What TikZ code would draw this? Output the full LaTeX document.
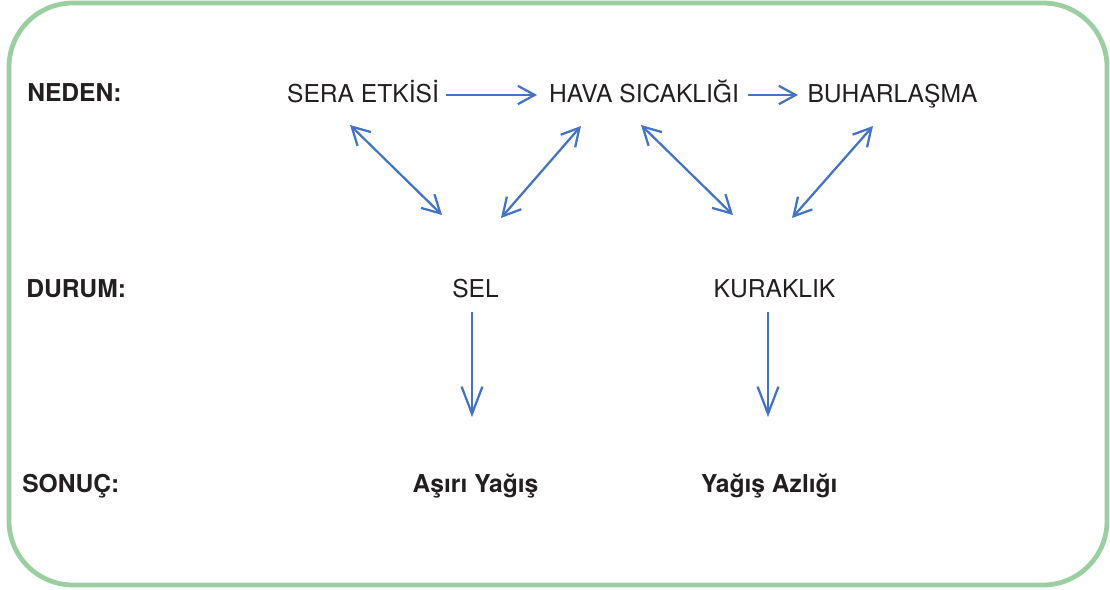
\documentclass[tikz,border=0pt]{standalone}
\usepackage{fontspec}
\setmainfont{TeX Gyre Heros}
\usetikzlibrary{arrows.meta,calc}
\definecolor{Ink}{HTML}{231F20}
\definecolor{LinkBlue}{HTML}{4472C4}
\definecolor{FrameGreen}{HTML}{9BCFA1}

\begin{document}
\begin{tikzpicture}[x=0.025cm,y=-0.025cm,
      font=\fontsize{17.5}{21}\selectfont,text=Ink,
      frame/.style={draw=FrameGreen,line width=3.4pt,rounded corners=1.6cm},
      term/.style={anchor=base,inner sep=0pt},
      rowlabel/.style={anchor=base west,inner sep=0pt,font=\fontsize{17.5}{21}\selectfont\bfseries},
      flow/.style={-{Straight Barb[length=0.42cm,width=0.46cm]},draw=LinkBlue,line width=1.6pt},
      twoway/.style={{Straight Barb[length=0.44cm,width=0.48cm]}-{Straight Barb[length=0.44cm,width=0.48cm]},
                     draw=LinkBlue,line width=1.6pt},
      lead/.style={-{Straight Barb[length=0.68cm,width=0.52cm]},draw=LinkBlue,line width=1.6pt}]
    \useasboundingbox (0,0) rectangle (1110,590);
    \draw[frame] (9,3) rectangle (1107,585);

    % row labels
    \node[rowlabel] (neden) at (27,102) {NEDEN:};
    \node[rowlabel] (durum) at (26,297) {DURUM:};
    \node[rowlabel] (sonuc) at (22,492) {SONUÇ:};

    % causes
    \node[term] (sera)  at (363,103) {SERA ETKİSİ};
    \node[term] (hava)  at (644,103) {HAVA SICAKLIĞI};
    \node[term] (buhar) at (892.5,103) {BUHARLAŞMA};
    % situations
    \node[term] (sel)   at (475.5,297) {SEL};
    \node[term] (kurak) at (774.5,297) {KURAKLIK};
    % results
    \node[term,font=\fontsize{17.5}{21}\selectfont\bfseries] (asiri) at (475.5,492) {Aşırı Yağış};
    \node[term,font=\fontsize{17.5}{21}\selectfont\bfseries] (azlik) at (769.3,492) {Yağış Azlığı};

    \draw[flow] ($(sera.base)+(83,-8)$) -- ($(hava.base)+(-107,-8)$);
    \draw[flow] ($(hava.base)+(104,-8)$) -- ($(buhar.base)+(-94.5,-8)$);

    \draw[twoway] ($(sera.base)+(-13,22)$) -- ($(sel.base)+(-33.5,-82)$);
    \draw[twoway] ($(hava.base)+(-63,23)$) -- ($(sel.base)+(25.5,-79)$);
    \draw[twoway] ($(hava.base)+(-3,22)$) -- ($(kurak.base)+(-41.5,-82)$);
    \draw[twoway] ($(buhar.base)+(-19.5,23)$) -- ($(kurak.base)+(17.5,-79)$);

    \draw[lead] ($(sel.base)+(-3.5,15)$) -- ($(asiri.base)+(-3.5,-75)$);
    \draw[lead] ($(kurak.base)+(-6.5,15)$) -- ($(azlik.base)+(-1.3,-75)$);
\end{tikzpicture}
\end{document}
